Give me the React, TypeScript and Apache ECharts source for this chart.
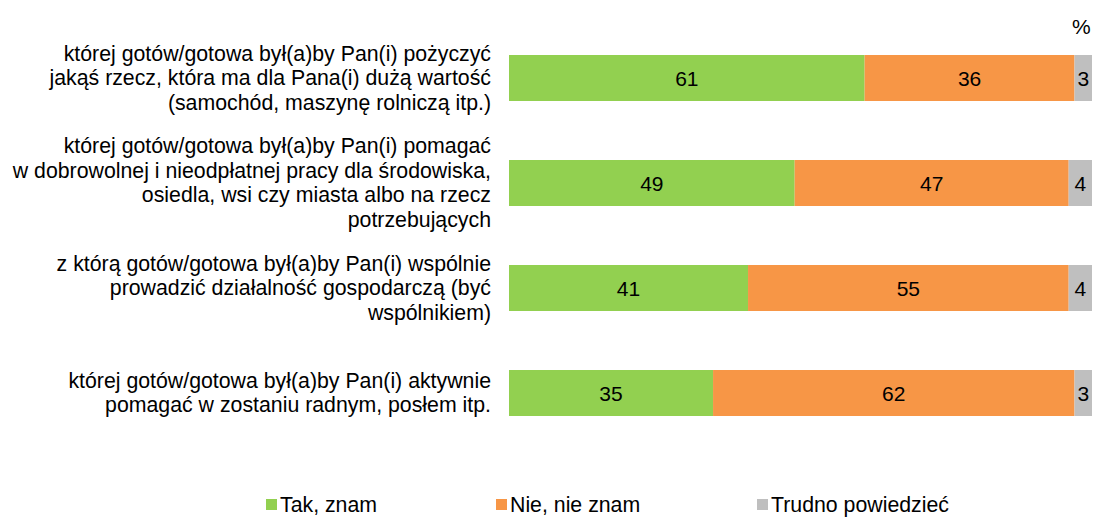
import React, { useEffect, useRef } from "react";
import * as echarts from "echarts";

const categories = [
  "której gotów/gotowa był(a)by Pan(i) pożyczyć\njakąś rzecz, która ma dla Pana(i) dużą wartość\n(samochód, maszynę rolniczą itp.)",
  "której gotów/gotowa był(a)by Pan(i) pomagać\nw dobrowolnej i nieodpłatnej pracy dla środowiska,\nosiedla, wsi czy miasta albo na rzecz\npotrzebujących",
  "z którą gotów/gotowa był(a)by Pan(i) wspólnie\nprowadzić działalność gospodarczą (być\nwspólnikiem)",
  "której gotów/gotowa był(a)by Pan(i) aktywnie\npomagać w zostaniu radnym, posłem itp.",
];
const seriesNames = ["Tak, znam", "Nie, nie znam", "Trudno powiedzieć"];
const takValues = [61, 49, 41, 35];
const nieValues = [36, 47, 55, 62];
const trudnoValues = [3, 4, 4, 3];
const colors = ["#92D050", "#F79646", "#BFBFBF"];

const FONT = "'Liberation Sans', Arial, sans-serif";

export default function App() {
  const ref = useRef<HTMLDivElement>(null);
  useEffect(() => {
    if (!ref.current) return;
    const chart = echarts.init(ref.current, null, { renderer: "svg" });
    const values = [takValues, nieValues, trudnoValues];
    const legendLefts = [266, 496, 757];
    const labelPads = [
      [0, 0, 6, 0],
      [5, 0, 0, 0],
      [0, 0, 0, 0],
      [0, 0, 0, 0],
    ];
    chart.setOption({
      animation: false,
      textStyle: { fontFamily: FONT },
      grid: { left: 509, right: 4, top: 25.5, height: 420, containLabel: false },
      xAxis: {
        type: "value",
        min: 0,
        max: 100,
        show: false,
      },
      yAxis: {
        type: "category",
        data: categories.map((c, i) => ({ value: c, textStyle: { padding: labelPads[i] } })),
        inverse: true,
        axisLine: { show: false },
        axisTick: { show: false },
        axisLabel: {
          margin: 18,
          align: "right",
          fontSize: 21.3,
          lineHeight: 24.5,
          color: "#000",
          fontFamily: FONT,
        },
      },
      legend: seriesNames.map((n, i) => ({
        data: [n],
        left: legendLefts[i],
        top: 494,
        icon: "rect",
        itemWidth: 11,
        itemHeight: 11,
        itemGap: 6,
        padding: 0,
        textStyle: { fontSize: 21.3, color: "#000", fontFamily: FONT, padding: [0, 0, 0, -2] },
      })),
      graphic: [
        {
          type: "text",
          left: 1072,
          top: 16,
          style: { text: "%", fontSize: 21, fill: "#000", fontFamily: FONT },
        },
      ],
      series: seriesNames.map((n, i) => ({
        name: n,
        type: "bar",
        stack: "total",
        barWidth: 46,
        data: values[i],
        itemStyle: { color: colors[i] },
        label: {
          show: true,
          position: "inside",
          color: "#000",
          fontSize: 21,
          fontFamily: FONT,
        },
      })),
    });
    return () => chart.dispose();
  }, []);
  return <div ref={ref} style={{ width: 1096, height: 517, position: "absolute", left: 0, top: 0 }} />;
}
